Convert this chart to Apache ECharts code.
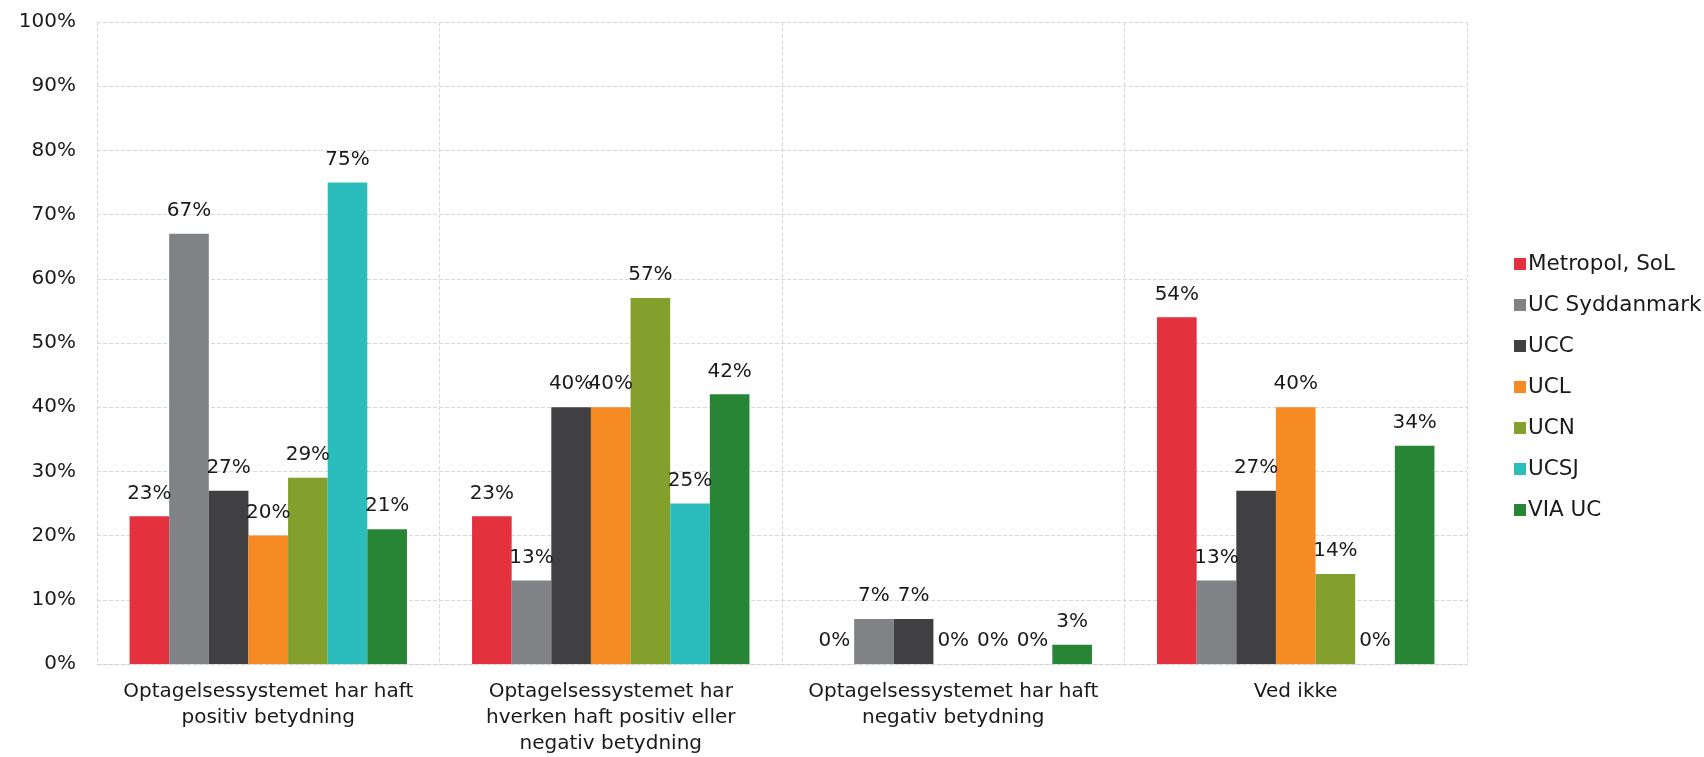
<!DOCTYPE html>
<html>
<head>
<meta charset="utf-8">
<script src="https://cdn.jsdelivr.net/npm/echarts@6/dist/echarts.min.js"></script>
<style>html,body{margin:0;padding:0;background:#fff;}#c{width:1704px;height:757px;}</style>
</head>
<body>
<div id="c"></div>
<script>
const categories = [
  'Optagelsessystemet har haft\npositiv betydning',
  'Optagelsessystemet har\nhverken haft positiv eller\nnegativ betydning',
  'Optagelsessystemet har haft\nnegativ betydning',
  'Ved ikke'
];
const seriesNames = ['Metropol, SoL', 'UC Syddanmark', 'UCC', 'UCL', 'UCN', 'UCSJ', 'VIA UC'];
const metropol = [23, 23, 0, 54];
const ucSyddanmark = [67, 13, 7, 13];
const ucc = [27, 40, 7, 27];
const ucl = [20, 40, 0, 40];
const ucn = [29, 57, 0, 14];
const ucsj = [75, 25, 0, 0];
const viaUc = [21, 42, 3, 34];
const seriesValues = [metropol, ucSyddanmark, ucc, ucl, ucn, ucsj, viaUc];
const colors = ['#E3313E', '#818285', '#404042', '#F58B22', '#82A02B', '#2BBDBC', '#288536'];

const font = 'DejaVu Sans, Verdana, sans-serif';
const chart = echarts.init(document.getElementById('c'), null, {renderer: 'canvas'});
chart.setOption({
  animation: false,
  color: colors,
  textStyle: {fontFamily: font},
  grid: {left: 97, right: 237, top: 22, bottom: 92, containLabel: false},
  legend: {
    orient: 'vertical',
    left: 1509,
    top: 248,
    itemWidth: 12,
    itemHeight: 12,
    itemGap: 19,
    icon: 'rect',
    textStyle: {fontFamily: font, fontSize: 21.5, color: '#1a1a1a', padding: [0, 0, 0, -3]},
    data: seriesNames
  },
  xAxis: {
    type: 'category',
    data: categories,
    axisLine: {show: true, lineStyle: {color: '#d0d0d0', type: 'dashed', width: 1}},
    axisTick: {show: false},
    splitLine: {show: true, interval: 0, lineStyle: {color: '#d9d9d9', type: 'dashed'}},
    axisLabel: {interval: 0, fontSize: 20, color: '#1a1a1a', lineHeight: 26, margin: 15, fontFamily: font}
  },
  yAxis: {
    type: 'value',
    min: 0, max: 100, interval: 10,
    axisLine: {show: false},
    axisTick: {show: false},
    splitLine: {show: true, lineStyle: {color: '#d9d9d9', type: 'dashed'}},
    axisLabel: {fontSize: 20, color: '#1a1a1a', margin: 21, formatter: '{value}%', fontFamily: font}
  },
  series: seriesNames.map((name, i) => ({
    name: name,
    type: 'bar',
    data: seriesValues[i],
    barGap: '0%',
    barCategoryGap: '19%',
    itemStyle: {color: colors[i]},
    label: {show: true, position: 'top', distance: 13, formatter: '{c}%', fontSize: 20, color: '#1a1a1a', fontFamily: font}
  }))
});
</script>
</body>
</html>
